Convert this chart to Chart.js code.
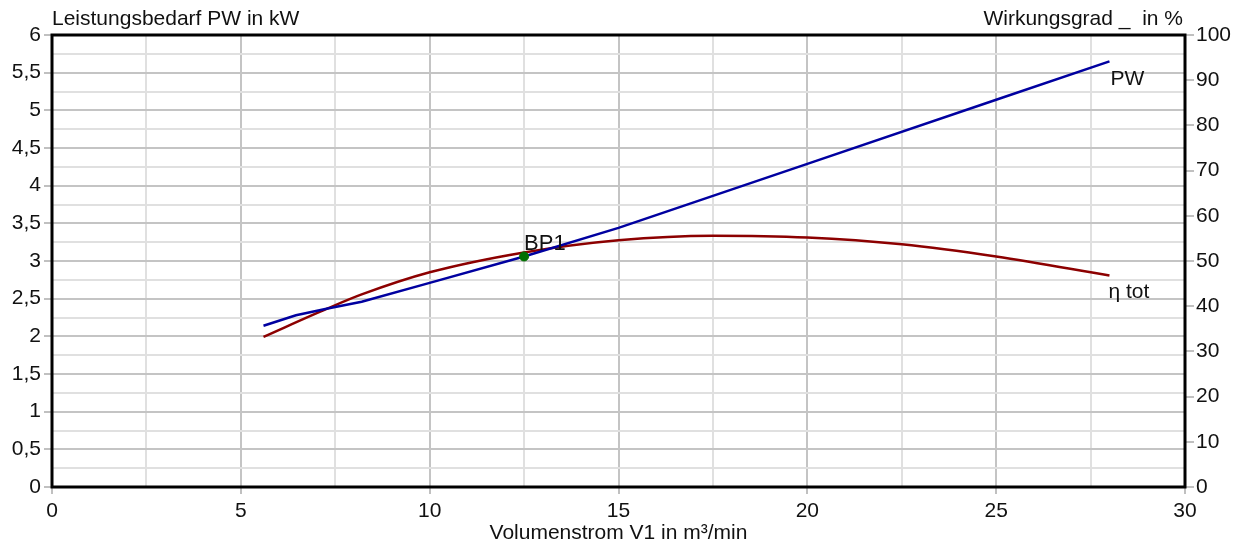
<!DOCTYPE html>
<html>
<head>
<meta charset="utf-8">
<script src="https://cdn.jsdelivr.net/npm/chart.js@4"></script>
<style>
html,body{margin:0;padding:0;background:#fff;}
#wrap{width:1245px;height:546px;}
</style>
</head>
<body>
<div id="wrap"><canvas id="c" width="1245" height="546"></canvas></div>
<script>
// Data
const pwFlow   = [5.6, 6.46, 7.3, 8.2, 10.0, 12.5, 15.0, 20.0, 25.0, 28.0];
const pwValues = [2.14, 2.28, 2.37, 2.46, 2.71, 3.06, 3.44, 4.29, 5.14, 5.65]; // kW
const etaFlow   = [5.6, 7.3, 8.2, 10.0, 12.5, 15.0, 17.5, 20.0, 22.5, 25.0, 28.0];
const etaValues = [33.2, 39.5, 42.6, 47.5, 51.9, 54.6, 55.6, 55.2, 53.7, 51.0, 46.8]; // %
const bpFlow = [12.5];
const bpValues = [3.06];
const bpLabels = ['BP1'];
const seriesLabels = ['PW', 'η tot'];
const titleLeft = 'Leistungsbedarf PW in kW';
const titleRight = 'Wirkungsgrad _  in %';
const titleX = 'Volumenstrom V1 in m³/min';

const FONT = "'Liberation Sans', Arial, sans-serif";
const FS = 21;
const toXY = (xs, ys) => xs.map((x, i) => ({x: x, y: ys[i]}));
const isHalf = v => Math.abs(v * 2 - Math.round(v * 2)) < 1e-9;

const overlay = {
  id: 'overlay',
  afterDraw(chart) {
    const ctx = chart.ctx, a = chart.chartArea;
    const sx = chart.scales.x, sy = chart.scales.y, sy1 = chart.scales.y1;
    ctx.save();
    // frame
    ctx.strokeStyle = '#000';
    ctx.lineWidth = 3;
    ctx.strokeRect(a.left, a.top, a.right - a.left, a.bottom - a.top);
    ctx.fillStyle = '#111';
    ctx.font = FS + 'px ' + FONT;
    ctx.textBaseline = 'alphabetic';
    ctx.textAlign = 'left';
    ctx.fillText(titleLeft, a.left, 25);
    ctx.textAlign = 'right';
    ctx.fillText(titleRight, a.right - 2, 25);
    // series end labels
    ctx.textAlign = 'left';
    const pwLast = pwFlow.length - 1;
    ctx.fillText(seriesLabels[0], sx.getPixelForValue(pwFlow[pwLast]) + 1, sy.getPixelForValue(pwValues[pwLast]) + 24);
    const eLast = etaFlow.length - 1;
    ctx.fillText(seriesLabels[1], sx.getPixelForValue(etaFlow[eLast]) - 1, sy1.getPixelForValue(etaValues[eLast]) + 23);
    // BP label
    ctx.font = '22px ' + FONT;
    bpFlow.forEach((f, i) => {
      ctx.fillText(bpLabels[i], sx.getPixelForValue(f), sy.getPixelForValue(bpValues[i]) - 6);
    });
    ctx.restore();
  }
};

new Chart(document.getElementById('c'), {
  type: 'scatter',
  data: {
    datasets: [
      {
        label: seriesLabels[0],
        data: toXY(pwFlow, pwValues),
        yAxisID: 'y',
        showLine: true,
        borderColor: '#0000a0',
        borderWidth: 2.5,
        pointRadius: 0,
        tension: 0,
        order: 2
      },
      {
        label: seriesLabels[1],
        data: toXY(etaFlow, etaValues),
        yAxisID: 'y1',
        showLine: true,
        borderColor: '#8c0000',
        borderWidth: 2.5,
        pointRadius: 0,
        cubicInterpolationMode: 'monotone',
        order: 3
      },
      {
        label: bpLabels[0],
        data: toXY(bpFlow, bpValues),
        yAxisID: 'y',
        showLine: false,
        pointRadius: 4.5,
        pointBackgroundColor: '#007000',
        pointBorderColor: '#007000',
        order: 1
      }
    ]
  },
  options: {
    responsive: false,
    animation: false,
    devicePixelRatio: 1,
    layout: {padding: {top: 35, left: 0, right: 0, bottom: 0}},
    plugins: {legend: {display: false}, tooltip: {enabled: false}},
    scales: {
      x: {
        type: 'linear',
        min: 0, max: 30,
        afterFit(s) { s.height = 59; },
        ticks: {
          stepSize: 2.5,
          autoSkip: false,
          maxRotation: 0,
          padding: 5,
          color: '#111',
          font: {family: FONT, size: FS},
          callback: v => (v % 5 === 0 ? String(v) : '')
        },
        grid: {
          lineWidth: 2,
          color: c => (c.tick && c.tick.value % 5 === 0 ? '#c4c4c4' : '#e0e0e0'),
          tickColor: c => (c.tick && c.tick.value % 5 === 0 ? '#c0c0c0' : 'rgba(0,0,0,0)'),
          tickLength: 7
        },
        border: {display: false},
        title: {display: true, text: titleX, color: '#111', font: {family: FONT, size: FS}, padding: {top: 0, bottom: 0}}
      },
      y: {
        type: 'linear',
        position: 'left',
        min: 0, max: 6,
        afterFit(s) { s.width = 52; },
        ticks: {
          stepSize: 0.25,
          autoSkip: false,
          padding: 3,
          color: '#111',
          font: {family: FONT, size: FS},
          callback: v => (isHalf(v) ? String(v).replace('.', ',') : '')
        },
        grid: {
          lineWidth: 2,
          color: c => (c.tick && isHalf(c.tick.value) ? '#c4c4c4' : '#e0e0e0'),
          tickColor: c => (c.tick && isHalf(c.tick.value) ? '#c0c0c0' : 'rgba(0,0,0,0)'),
          tickLength: 8
        },
        border: {display: false}
      },
      y1: {
        type: 'linear',
        position: 'right',
        min: 0, max: 100,
        afterFit(s) { s.width = 60; },
        ticks: {
          stepSize: 10,
          autoSkip: false,
          padding: 2,
          color: '#111',
          font: {family: FONT, size: FS}
        },
        grid: {
          drawOnChartArea: false,
          lineWidth: 2,
          tickColor: '#c0c0c0',
          tickLength: 9
        },
        border: {display: false}
      }
    }
  },
  plugins: [overlay]
});
</script>
</body>
</html>
